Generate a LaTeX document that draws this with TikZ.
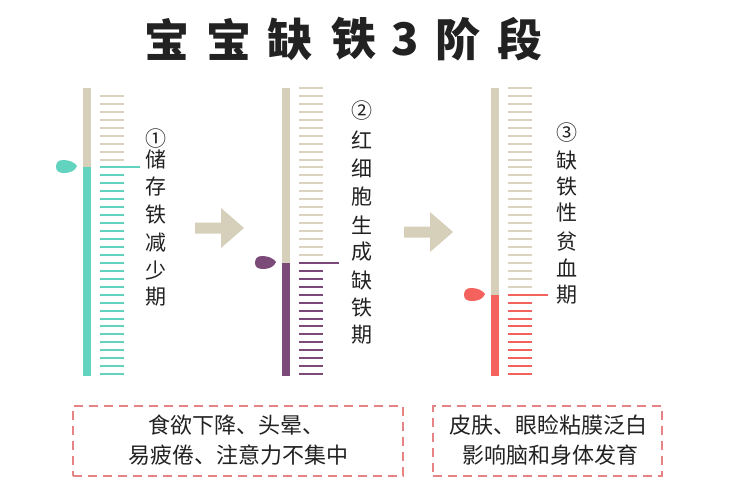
\documentclass[tikz,border=0pt]{standalone}
\usepackage{fontspec}
\newfontfamily\cjk{Noto Sans CJK SC}
\definecolor{beige}{HTML}{D6D0BB}
\definecolor{beigel}{HTML}{D9D3C0}
\definecolor{tealc}{HTML}{62D3BF}
\definecolor{plum}{HTML}{7B4A78}
\definecolor{coral}{HTML}{F4625E}
\definecolor{dashred}{HTML}{E58385}
\definecolor{ink}{HTML}{222222}
\newcommand\mythermo[5]{% #1 bar left x, #2 transition index, #3 colour, #4 first tick index, #5 name
  \pgfmathsetmacro\ty{round(88+7.95*#2)}
  \fill[beige] (#1,88) rectangle ({#1+8},\ty);
  \fill[#3] (#1,\ty) rectangle ({#1+8},376);
  \foreach \k in {#4,...,36}{
    \pgfmathsetmacro\yy{round(88+7.95*\k)}
    \ifnum\k<#2\relax
      \draw[tick, beigel] ({#1+17},\yy) -- ({#1+41},\yy);
    \else
      \draw[tick, #3] ({#1+17},\yy) -- ({#1+41},\yy);
    \fi
  }
  \draw[tick, #3] ({#1+17},\ty) -- ({#1+57},\ty) coordinate (#5-long);
  \fill[#3] ({#1-6},{\ty-1}) .. controls ({#1-9},{\ty-5}) and ({#1-14},{\ty-7}) .. ({#1-20},{\ty-7})
     .. controls ({#1-25},{\ty-7}) and ({#1-27},{\ty-4}) .. ({#1-27},{\ty})
     .. controls ({#1-27},{\ty+4}) and ({#1-24},{\ty+6}) .. ({#1-19},{\ty+6})
     .. controls ({#1-13},{\ty+6}) and ({#1-8},{\ty+4}) .. cycle;
}
\newcommand\blockarrow[2]{% left x, centre y
  \fill[beige] (#1,{#2-5.5}) -- ({#1+26},{#2-5.5}) -- ({#1+26},{#2-20}) -- ({#1+49},#2)
    -- ({#1+26},{#2+20}) -- ({#1+26},{#2+5.5}) -- (#1,{#2+5.5}) -- cycle;
}
\begin{document}
\begin{tikzpicture}[x=1pt,y=-1pt,
  tick/.style={line width=2pt},
  vtext/.style={font=\cjk\fontsize{21}{21}\selectfont, text=ink, inner sep=0pt, anchor=center},
  ttext/.style={font=\cjk\bfseries\fontsize{45}{45}\selectfont, text=ink, inner sep=0pt, anchor=center},
  btext/.style={font=\cjk\fontsize{22}{22}\selectfont, text=ink, inner sep=0pt, anchor=center},
  dbox/.style={draw=dashred, line width=1.3pt, dash pattern=on 9pt off 6pt, inner sep=0pt, minimum height=70pt}]
\useasboundingbox (0,0) rectangle (730,498);
\fill[white] (0,0) rectangle (730,498);

% title
\foreach \ch/\xx [count=\i] in {宝/167,宝/229,缺/290,铁/354,3/405,阶/458,段/520}
  \node[ttext] (t\i) at (\xx,39) {\ch};

% thermometers
\mythermo{83}{10}{tealc}{1}{a}
\mythermo{282}{22}{plum}{0}{b}
\mythermo{491}{26}{coral}{0}{c}

% vertical labels
\foreach \ch/\yy [count=\i] in {①/139,储/159,存/187,铁/215,减/243,少/271,期/297}
  \node[vtext] (la\i) at (156,\yy) {\ch};
\foreach \ch/\yy [count=\i] in {②/111,红/140,细/168,胞/197,生/225,成/252,缺/280,铁/308,期/335}
  \node[vtext] (lb\i) at (362,\yy) {\ch};
\foreach \ch/\yy [count=\i] in {③/133,缺/160,铁/187,性/213,贫/242,血/268,期/295}
  \node[vtext] (lc\i) at (567,\yy) {\ch};

% arrows
\blockarrow{195}{228}
\blockarrow{404}{232}

% boxes
\node[dbox, minimum width=330pt] (box1) at (238,441) {};
\node[dbox, minimum width=229pt] (box2) at (547.5,441) {};
\node[btext] (b1l1) at (236,425) {食欲下降、头晕、};
\node[btext] (b1l2) at (238,455) {易疲倦、注意力不集中};
\node[btext] (b2l1) at (548,425) {皮肤、眼睑粘膜泛白};
\node[btext] (b2l2) at (550,455) {影响脑和身体发育};
\end{tikzpicture}
\end{document}
